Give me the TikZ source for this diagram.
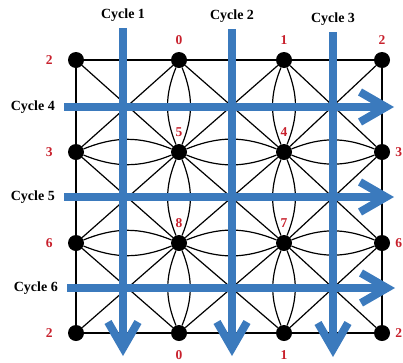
\documentclass[tikz,border=0pt]{standalone}
\usepackage{fontspec}
\setmainfont{Liberation Serif}
\usetikzlibrary{arrows.meta, positioning}
\definecolor{cycblue}{RGB}{59,122,189}
\definecolor{tagred}{RGB}{200,32,44}

\begin{document}
\begin{tikzpicture}[x=1pt, y=-1pt,
        vertex/.style={circle, fill=black, inner sep=0pt, minimum size=16pt},
        tag/.style={text=tagred, font=\fontsize{13.5}{13.5}\selectfont\bfseries, inner sep=1pt},
        cyclabel/.style={font=\fontsize{14}{14}\selectfont\bfseries, inner sep=0pt},
        link/.style={draw, line width=1.2pt},
        cycarrow/.style={draw=cycblue, line width=8pt, -{Straight Barb[length=26pt, width=30pt]}}
    ]
    \useasboundingbox (0,0) rectangle (403,362);

    % grid of vertices
    \foreach \x [count=\i from 0] in {76,179,284,382}
        \foreach \y [count=\j from 0] in {60,152,243,333}
            \node[vertex] (n\i\j) at (\x,\y) {};

    % vertex numbers
    \node[tag, left=14pt of n00] (t00) {2};
    \node[tag, above=6pt of n10] (t10) {0};
    \node[tag, above=6pt of n20] (t20) {1};
    \node[tag, above=6pt of n30] (t30) {2};
    \node[tag, left=14pt of n01] (t01) {3};
    \node[tag, above=6pt of n11] (t11) {5};
    \node[tag, above=6pt of n21] (t21) {4};
    \node[tag, right=4pt of n31] (t31) {3};
    \node[tag, left=14pt of n02] (t02) {6};
    \node[tag, above=6pt of n12] (t12) {8};
    \node[tag, above=6pt of n22] (t22) {7};
    \node[tag, right=4pt of n32] (t32) {6};
    \node[tag, left=14pt of n03] (t03) {2};
    \node[tag, below=8pt of n13] (t13) {0};
    \node[tag, below=8pt of n23] (t23) {1};
    \node[tag, right=4pt of n33] (t33) {2};

    % border
    \draw[link] (n00) -- (n10) -- (n20) -- (n30) -- (n31) -- (n32) -- (n33)
        -- (n23) -- (n13) -- (n03) -- (n02) -- (n01) -- (n00);

    % diagonals
    \foreach \i in {0,1,2}
        \foreach \j in {0,1,2} {
            \pgfmathtruncatemacro{\ii}{\i+1}
            \pgfmathtruncatemacro{\jj}{\j+1}
            \draw[link] (n\i\j) -- (n\ii\jj) (n\ii\j) -- (n\i\jj);
        }

    % double edges
    \foreach \j in {1,2}
        \foreach \i in {0,1,2} {
            \pgfmathtruncatemacro{\ii}{\i+1}
            \draw[link] (n\i\j) to[bend left=22] (n\ii\j) (n\i\j) to[bend right=22] (n\ii\j);
        }
    \foreach \i in {1,2}
        \foreach \j in {0,1,2} {
            \pgfmathtruncatemacro{\jj}{\j+1}
            \draw[link] (n\i\j) to[bend left=22] (n\i\jj) (n\i\j) to[bend right=22] (n\i\jj);
        }

    % cycles
    \coordinate (c1s) at (123,28);  \coordinate (c1e) at (123,356);
    \coordinate (c2s) at (232,29);  \coordinate (c2e) at (232,356);
    \coordinate (c3s) at (333,32);  \coordinate (c3e) at (333,357);
    \coordinate (c4s) at (64,107);  \coordinate (c4e) at (394,107);
    \coordinate (c5s) at (64,197);  \coordinate (c5e) at (394,197);
    \coordinate (c6s) at (67,288);  \coordinate (c6e) at (395,288);
    \foreach \k in {1,...,6}
        \draw[cycarrow] (c\k s) -- (c\k e);

    \node[cyclabel, above=6pt of c1s] (y1) {Cycle 1};
    \node[cyclabel, above=6pt of c2s] (y2) {Cycle 2};
    \node[cyclabel, above=6pt of c3s] (y3) {Cycle 3};
    \node[cyclabel, left=9pt of c4s] (y4) {Cycle 4};
    \node[cyclabel, left=9pt of c5s] (y5) {Cycle 5};
    \node[cyclabel, left=9pt of c6s] (y6) {Cycle 6};
\end{tikzpicture}
\end{document}
